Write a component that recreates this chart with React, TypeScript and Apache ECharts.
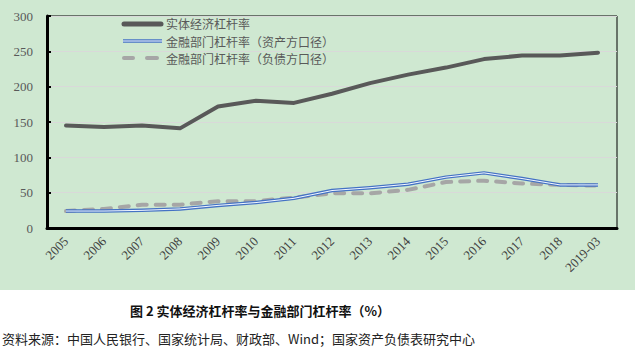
import React, { useEffect, useRef } from "react";
import * as echarts from "echarts";

const categories = ["2005","2006","2007","2008","2009","2010","2011","2012","2013","2014","2015","2016","2017","2018","2019-03"];
const realEconomy = [145,143,145,141,172,180,177,190,205,217,227,239,244,244,248];
const finAssets = [24,24,25,27,32,36,42,53,57,62,72,78,70,61,61];
const finLiabilities = [24,27,33,33,38,38,43,49,49,54,65,67,63,61,60];
const legendNames = ["实体经济杠杆率","金融部门杠杆率（资产方口径）","金融部门杠杆率（负债方口径）"];
const titleText = "图 2 实体经济杠杆率与金融部门杠杆率（%）";
const sourceText = "资料来源：中国人民银行、国家统计局、财政部、Wind；国家资产负债表研究中心";

export default function App() {
  const ref = useRef<HTMLDivElement>(null);
  useEffect(() => {
    const chart = echarts.init(ref.current!, null, { renderer: "svg" });
    const serif = "'Liberation Serif', 'Noto Sans CJK SC', serif";
    const cjk = "'Noto Sans CJK SC', sans-serif";
    const legendText = (y: number, text: string) => ({
      type: "text", z: 10, x: 166, y,
      style: { text, fill: "#595959", font: `12px ${cjk}`, lineHeight: 13, verticalAlign: "middle" },
    });
    chart.setOption({
      animation: false,
      backgroundColor: "#ffffff",
      grid: { left: 47, right: 18, top: 16, bottom: 124, show: true, borderColor: "#000", borderWidth: 1, backgroundColor: "transparent" },
      xAxis: {
        type: "category",
        data: categories,
        boundaryGap: true,
        axisLine: { lineStyle: { color: "#000", width: 3 } },
        axisTick: { inside: true, length: 4, lineStyle: { color: "#000", width: 2 } },
        axisLabel: { rotate: 45, color: "#404040", fontFamily: serif, fontSize: 13, margin: 11 },
        splitLine: { show: false },
      },
      yAxis: {
        type: "value",
        min: 0, max: 300, interval: 50,
        axisLine: { show: true, lineStyle: { color: "#000", width: 3 } },
        axisTick: { show: true, inside: true, length: 4, lineStyle: { color: "#000", width: 2 } },
        axisLabel: { color: "#595959", fontFamily: serif, fontSize: 13, margin: 14 },
        splitLine: { lineStyle: { color: "#d9d9d9", width: 1 } },
      },
      series: [
        { name: legendNames[0], type: "line", data: realEconomy, symbol: "none",
          lineStyle: { color: "#595959", width: 4, cap: "round", join: "round" }, z: 3 },
        { name: legendNames[1], type: "line", data: finAssets, symbol: "none",
          lineStyle: { color: "#4472c4", width: 3.5, join: "round" }, z: 4 },
        { name: "assetsInner", type: "line", data: finAssets, symbol: "none",
          lineStyle: { color: "#f4f8ff", width: 1, join: "round" }, z: 5 },
        { name: legendNames[2], type: "line", data: finLiabilities, symbol: "none",
          lineStyle: { color: "#a6a6a6", width: 4, type: [9, 9], cap: "round" }, z: 3 },
      ],
      graphic: [
        { type: "rect", z: -10, shape: { x: 0, y: 0, width: 635, height: 290 }, style: { fill: "#cfe8d1" } },
        { type: "line", z: 10, shape: { x1: 124, y1: 24, x2: 161, y2: 24 }, style: { stroke: "#595959", lineWidth: 5, lineCap: "round" } },
        { type: "line", z: 10, shape: { x1: 123, y1: 41, x2: 162, y2: 41 }, style: { stroke: "#4472c4", lineWidth: 3.5 } },
        { type: "line", z: 11, shape: { x1: 123, y1: 41, x2: 162, y2: 41 }, style: { stroke: "#f4f8ff", lineWidth: 1 } },
        { type: "line", z: 10, shape: { x1: 124, y1: 58, x2: 133, y2: 58 }, style: { stroke: "#a6a6a6", lineWidth: 4, lineCap: "round" } },
        { type: "line", z: 10, shape: { x1: 147, y1: 58, x2: 157, y2: 58 }, style: { stroke: "#a6a6a6", lineWidth: 4, lineCap: "round" } },
        legendText(23.5, legendNames[0]),
        legendText(41, legendNames[1]),
        legendText(58.5, legendNames[2]),
        { type: "text", z: 10, x: 260, y: 310, style: { text: titleText, fill: "#111", font: `bold 13px ${cjk}`, align: "center", verticalAlign: "middle" } },
        { type: "text", z: 10, x: 2, y: 338, style: { text: sourceText, fill: "#222", font: `13px ${cjk}`, verticalAlign: "middle" } },
      ],
    });
    return () => chart.dispose();
  }, []);
  return <div ref={ref} style={{ position: "fixed", left: 0, top: 0, width: 635, height: 352 }} />;
}
